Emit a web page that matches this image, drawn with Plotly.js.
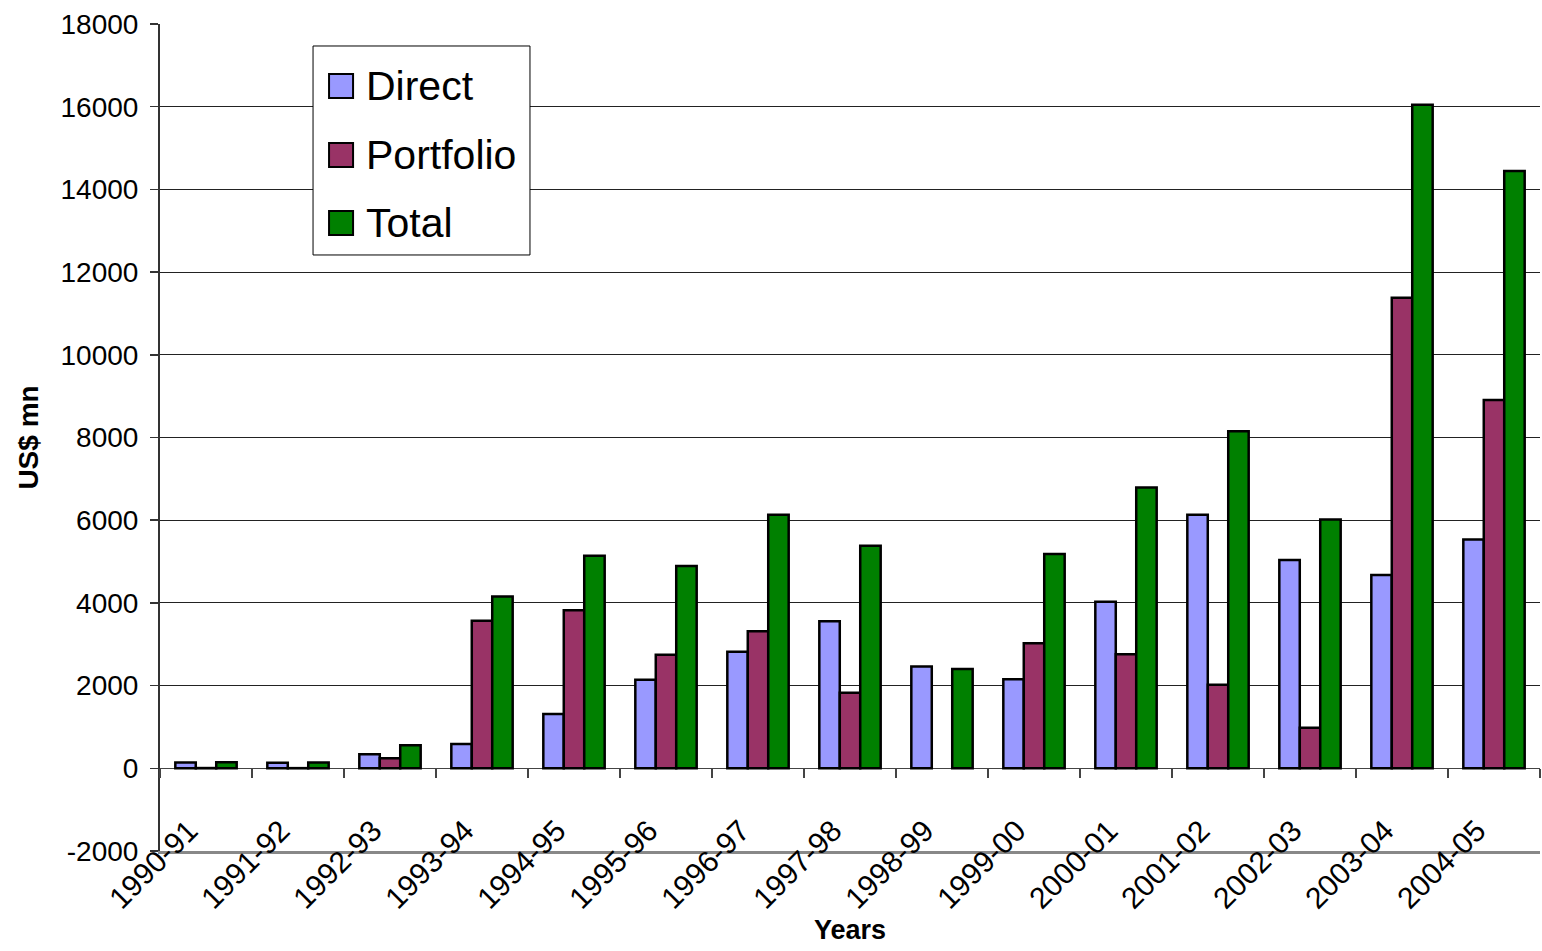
<!DOCTYPE html>
<html>
<head>
<meta charset="utf-8">
<script src="https://cdn.plot.ly/plotly-3.0.1.min.js"></script>
<style>html,body{margin:0;padding:0;background:#fff;}#chart{width:1542px;height:951px;}</style>
</head>
<body>
<div id="chart"></div>
<script>
const years = ["1990-91","1991-92","1992-93","1993-94","1994-95","1995-96","1996-97","1997-98","1998-99","1999-00","2000-01","2001-02","2002-03","2003-04","2004-05"];
const direct = [140,135,340,586,1314,2144,2821,3557,2462,2155,4029,6130,5035,4673,5536];
const portfolio = [6,4,244,3567,3824,2748,3312,1828,null,3026,2760,2021,979,11377,8909];
const total = [145,140,556,4153,5138,4892,6133,5385,2401,5181,6789,8151,6014,16050,14445];
const seriesNames = ["Direct","Portfolio","Total"];
const seriesColors = ["#9999FF","#993366","#008000"];
const yTicks = [-2000,0,2000,4000,6000,8000,10000,12000,14000,16000,18000];

const seriesData = [direct, portfolio, total];
const traces = seriesData.map((vals, i) => ({
  type: "bar",
  name: seriesNames[i],
  x: years,
  y: vals,
  marker: {color: seriesColors[i], line: {color: "#000", width: 2.5}},
  showlegend: false,
  hoverinfo: "x+y+name"
}));
// helper trace for boundary ticks on the zero line
traces.push({type: "scatter", mode: "none", x: years, y: years.map(() => null), xaxis: "x2", yaxis: "y", showlegend: false, hoverinfo: "skip"});

const F = "Liberation Sans, Arial, sans-serif";

// manual legend (paper coordinates)
const shapes = [{type: "rect", xref: "paper", yref: "paper", x0: 0.1109, x1: 0.2681, y0: 0.7207, y1: 0.9734, line: {color: "#000", width: 1}, fillcolor: "#fff", layer: "above"}];
const legY = [0.9250, 0.8416, 0.7594];
const annotations = [];
seriesNames.forEach((n, i) => {
  shapes.push({type: "rect", xref: "paper", yref: "paper", x0: 0.1225, x1: 0.1399, y0: legY[i] - 0.0145, y1: legY[i] + 0.0145, fillcolor: seriesColors[i], line: {color: "#000", width: 2}, layer: "above"});
  annotations.push({xref: "paper", yref: "paper", x: 0.1475, y: legY[i], xanchor: "left", yanchor: "middle", text: n, showarrow: false, font: {family: F, size: 41, color: "#000"}});
});

const layout = {
  width: 1542, height: 951,
  paper_bgcolor: "#fff", plot_bgcolor: "#fff",
  margin: {l: 160, r: 2, t: 24, b: 100},
  barmode: "group", bargap: 0.333, bargroupgap: 0,
  showlegend: false,
  font: {family: F, color: "#000"},
  xaxis: {
    type: "category", categoryarray: years, range: [-0.5, 14.5],
    tickangle: -45, tickfont: {family: F, size: 30, color: "#000"},
    ticks: "", ticklabelstandoff: -53, ticklabelshift: -17,
    showline: true, linecolor: "#888", linewidth: 3,
    showgrid: false, zeroline: false,
    title: {text: "Years", font: {family: F, size: 27, color: "#000", weight: "bold"}, standoff: 5}
  },
  xaxis2: {
    type: "category", categoryarray: years, range: [-0.5, 14.5],
    overlaying: "x", anchor: "free", position: 0.1, side: "bottom",
    tickson: "boundaries", ticks: "outside", ticklen: 9, tickcolor: "#444", tickwidth: 1.5,
    showticklabels: false, showline: false, showgrid: false, zeroline: false
  },
  yaxis: {
    range: [-2000, 18000], tickvals: yTicks, ticktext: yTicks.map(String),
    tickfont: {family: F, size: 28, color: "#000"},
    ticks: "outside", ticklen: 8, tickcolor: "#333", tickwidth: 1.5, ticklabelstandoff: 6,
    showline: true, linecolor: "#333", linewidth: 2,
    showgrid: true, gridcolor: "#222", gridwidth: 1,
    zeroline: true, zerolinecolor: "#444", zerolinewidth: 1.5,
    title: {text: "US$ mn", font: {family: F, size: 28, color: "#000", weight: "bold"}, standoff: 14}
  },
  shapes: shapes,
  annotations: annotations
};

Plotly.newPlot("chart", traces, layout, {displayModeBar: false, staticPlot: true});
</script>
</body>
</html>
